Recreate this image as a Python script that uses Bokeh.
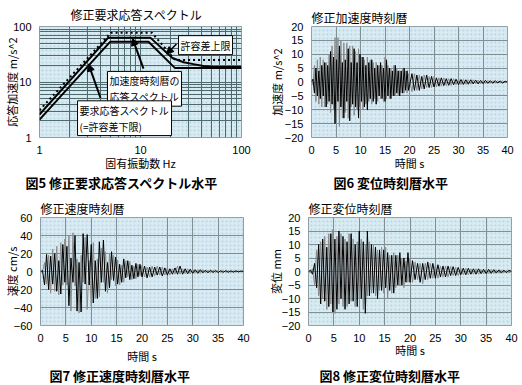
from bokeh.plotting import figure
from bokeh.layouts import column, row
from bokeh.models import (FixedTicker, SingleIntervalTicker, Label, Arrow,
                          NormalHead, BoxAnnotation, PrintfTickFormatter)
from bokeh.embed import file_html
from bokeh.resources import INLINE

JP = "Noto Sans CJK JP"
NUM = "Liberation Sans"
BG = "#d8ebf3"
DOTS = "#b9d3df"
GRID1 = "#4e6a6c"
GRID2 = "#7f8f94"
GREY = "#8a8a8a"

# ---------------- Fig.5 : response spectra (log-log) ----------------
freq_req = [1, 5, 12, 22, 100]
acc_req = [2.1, 53, 53, 17.8, 17.8]
freq_resp = [1, 4.8, 12.5, 20.7, 26.7, 33.5, 42, 53, 100]
acc_resp = [2.6, 63, 63, 27, 22.7, 21, 19.5, 18.6, 18.6]
freq_upper = [1, 5.1, 13, 22, 100]
acc_upper = [3.1, 77, 77, 25, 25]

# ---------------- Fig.6 : acceleration time history ----------------
t_acc = [0.0, 0.3, 0.6, 0.9, 1.2, 1.5, 1.8, 2.1, 2.4, 2.7, 3.0, 3.3, 3.6, 3.9, 4.2, 4.5,
         4.8, 5.1, 5.4, 5.7, 6.0, 6.3, 6.6, 6.9, 7.2, 7.5, 7.8, 8.1, 8.4, 8.7, 9.0, 9.3,
         9.6, 9.9, 10.2, 10.5, 10.8, 11.1, 11.4, 11.7, 12.0, 12.3, 12.6, 12.9, 13.2, 13.5,
         13.8, 14.1, 14.4, 14.7, 15.0, 15.3, 15.6, 15.9, 16.2, 16.5, 16.8, 17.1, 17.4,
         17.7, 18.0, 18.3, 18.6, 18.9, 19.2, 19.5, 19.8,
         20.5, 21.0, 21.5, 22.0, 22.5, 23.0, 23.5, 24.0, 24.5, 25.0, 25.5, 26.0, 26.5,
         27.0, 27.5, 28.0, 28.5, 29.0, 29.5, 30.0, 30.5, 31.0, 31.5, 32.0, 32.5, 33.0,
         33.5, 34.0, 34.5, 35.0, 35.5, 36.0, 36.5, 37.0, 37.5, 38.0, 38.5, 39.0, 39.5, 40.0]
acc_black = [0, 1, -4, 5, -5, 4, -6, 6, -5, 7, -9, 6, -7, 11, -8, 9, -15, 8, -7, 13,
             -9, 7, -13, 8, -7, 12, -14, 7, -8, 12, -9, 7, -13, 10, -7, 9, -9, 6, -10, 7,
             -6, 8, -7, 5, -8, 6, -5, 7, -6, 5, -7, 8, -5, 5, -6, 4, -5, 6, -4, 4,
             -5, 4, -4, 5, -3, 4, -3,
             3, -3, 2.5, -3, 2, -2.5, 2.5, -2, 2, -1.8, 1.5, -1.5, 1.5, -1.3, 1.2, -1.2,
             1.2, -1, 1, -1, 0.9, -0.9, 0.8, -0.8, 0.8, -0.7, 0.7, -0.7, 0.6, -0.6, 0.6,
             -0.5, 0.5, -0.5, 0.5, -0.4, 0.4, -0.4, 0.3, 0]
acc_grey = [0, -1, 6, -7, 8, -8, 9, -9, 8, -9, 7, -8, 10, -11, 13, -10, 16, -12, 16, -16,
            15, -13, 14, -11, 14, -13, 13, -9, 13, -12, 11, -10, 12, -9, 9, -10, 8, -8, 9, -7,
            8, -8, 7, -6, 7, -7, 6, -6, 6, -7, 9, -6, 6, -6, 5, -5, 6, -5, 5, -5,
            4, -4, 5, -4, 4, -4, 3,
            -3.5, 3, -3, 2.5, -2.5, 2.5, -2, 2, -2, 2, -1.8, 1.5, -1.5, 1.5, -1.3, 1.2,
            -1.2, 1.2, -1, 1, -1, 0.9, -0.9, 0.8, -0.8, 0.8, -0.7, 0.7, -0.7, 0.6, -0.6,
            0.6, -0.5, 0.5, -0.5, 0.5, -0.4, 0.4, -0.3, 0]

# ---------------- Fig.7 : velocity time history ----------------
t_vel = [0.0, 0.4, 0.8, 1.2, 1.6, 2.0, 2.4, 2.8, 3.2, 3.6, 4.0, 4.4, 4.8, 5.2, 5.6, 6.0,
         6.4, 6.8, 7.2, 7.6, 8.0, 8.4, 8.8, 9.2, 9.6, 10.0, 10.4, 10.8, 11.2, 11.6, 12.0,
         12.4, 12.8, 13.2, 13.6, 14.0, 14.4, 14.8, 15.2, 15.6, 16.0, 16.4, 16.8, 17.2,
         17.6, 18.0, 18.4, 18.8, 19.2, 19.6, 20.0,
         20.5, 21.0, 21.5, 22.0, 22.5, 23.0, 23.5, 24.0, 24.5, 25.0, 25.5, 26.0, 26.5,
         27.0, 27.5, 28.0, 28.5, 29.0, 29.5, 30.0, 30.5, 31.0, 31.5, 32.0, 32.5, 33.0,
         33.5, 34.0, 34.5, 35.0, 35.5, 36.0, 36.5, 37.0, 37.5, 38.0, 38.5, 39.0, 39.5, 40.0]
vel_black = [0, 1, -15, 19, -20, 17, -14, 20, -22, 12, -25, 30, -12, 28, -38, 15, -12, 40,
             -44, 10, -45, 42, -14, 41, -15, 30, -35, 12, -30, 33, -12, 35, -22, 10, -18,
             22, -10, 16, -14, 8, -12, 14, -7, 12, -9, 7, -8, 9, -6, 8, -6,
             6, -7, 5, -6, 5, -4, 5, -5, 4, -4, 3, -3, 4, -3, 6, -3, 3, -2.5, 2.5, -2,
             2, -2, 2, -1.5, 1.5, -1.5, 1.5, -1.2, 1.2, -1.2, 1, -1, 1, -1, 0.8, -0.8,
             0.8, -0.6, 0.6, 0]
vel_grey = [0, -1, 10, -14, 18, -24, 25, -22, 28, -26, 32, -15, 36, -15, 40, -44, 43, -16,
            14, -46, 18, -12, 38, -42, 12, -38, 32, -30, 14, -28, 26, -12, 22, -24, 20,
            -9, 18, -16, 13, -15, 7, -12, 12, -6, 11, -9, 6, -8, 8, -5, 7,
            -6, 5, -6, 6, -5, 6, -4, 5, -4, 4, -4, 3, -3, 6, -3, 3, -2.5, 3, -2.5, 2.5,
            -2, 2, -2, 2, -1.5, 1.5, -1.5, 1.5, -1.2, 1.2, -1.2, 1, -1, 1, -1, 0.8, -0.8,
            0.8, -0.6, 0]

# ---------------- Fig.8 : displacement time history ----------------
t_dis = list(t_vel)
dis_black = [0, 0.5, -1, 3, -6, 10, -12, 12, -11, 9, -13, 14, -15, 12, -14, 15, -10, 13,
             -14, 11, -12, 14, -11, 10, -13, 15, -10, 11, -15.5, 15, -9, 10, -8, 9, -10,
             8, -7, 8, -6, 7, -7, 6, -8, 6, -5, 7, -5, 5, -4, 7, -4,
             4, -3, 3, -4, 3, -3, 3.5, -2.5, 3, -2.5, 2.5, -2, 2, -2, 2, -1.5, 1.8, -1.5,
             1.5, -1.2, 1.2, -1.2, 1.2, -1, 1, -1, 1, -0.8, 0.8, -0.8, 0.8, -0.7, 0.7,
             -0.6, 0.6, -0.6, 0.5, -0.5, 0.5, 0]
dis_grey = [0, -0.5, 1, -5, 8, -9, 11, -10, 13, -14, 14, -12, 15.5, -15.5, 13, -12, 14, -13,
            12, -13, 14, -11, 12, -13, 11, -10, 12, -14, 10, -9, 11, -8, 10, -9, 8, -7, 9,
            -8, 9, -10, 6, -8, 7, -6, 6, -5, 5, -6, 4, -4, 5,
            -4, 3.5, -3, 3, -4.5, 3, -3, 3, -2.5, 2.5, -2.5, 2, -2, 2, -2, 1.8, -1.5, 1.5,
            -1.5, 1.2, -1.2, 1.2, -1.2, 1, -1, 1, -1, 0.8, -0.8, 0.8, -0.8, 0.7, -0.7,
            0.6, -0.6, 0.6, -0.5, 0.5, -0.5, 0]

captions = ["図5 修正要求応答スペクトル水平", "図6 変位時刻暦水平",
            "図7 修正速度時刻暦水平", "図8 修正変位時刻暦水平"]


def make_fig(w, h, ml, mr, mt, mb, title, title_offset, title_standoff, **kw):
    p = figure(width=w, height=h, min_border_left=ml, min_border_right=mr,
               min_border_top=mt, min_border_bottom=mb, output_backend="svg",
               toolbar_location=None, title=title, **kw)
    p.background_fill_color = BG
    p.border_fill_color = "white"
    p.outline_line_color = "#8c9ca4"
    p.outline_line_width = 1
    p.add_layout(BoxAnnotation(fill_color=None, line_color=None, hatch_pattern=".",
                               hatch_color=DOTS, hatch_scale=4, hatch_weight=1,
                               level="image"))
    for ax in (p.xaxis[0], p.yaxis[0]):
        ax.axis_line_color = None
        ax.major_tick_line_color = None
        ax.minor_tick_line_color = None
        ax.major_label_text_font = NUM
        ax.major_label_text_font_size = "11px"
        ax.major_label_text_color = "black"
        ax.major_label_standoff = 2
        ax.axis_label_text_font = JP
        ax.axis_label_text_font_size = "11px"
        ax.axis_label_text_font_style = "normal"
        ax.axis_label_text_color = "black"
    p.title.text_font = JP
    p.title.text_font_size = "12px"
    p.title.text_font_style = "normal"
    p.title.text_color = "black"
    p.title.align = "left"
    p.title.offset = title_offset
    p.title.standoff = title_standoff
    return p


def caption_fig(w, h, text, x):
    c = figure(width=w, height=h, x_range=(0, w), y_range=(0, h), min_border=0,
               output_backend="svg", toolbar_location=None,
               x_axis_location=None, y_axis_location=None)
    c.grid.visible = False
    c.outline_line_color = None
    c.background_fill_color = "white"
    c.add_layout(Label(x=x, y=h / 2, text=text, text_font=JP, text_font_size="13px",
                       text_font_style="bold", text_color="black",
                       text_align="left", text_baseline="middle"))
    return c


# ---- Fig 5 ----
p1 = make_fig(261, 173, 39, 20, 24, 28, "修正要求応答スペクトル", 31, 7,
              x_axis_type="log", y_axis_type="log", x_range=(1, 100), y_range=(1, 100))
tk = FixedTicker(ticks=[1, 10, 100], minor_ticks=[2, 3, 4, 5, 6, 7, 8, 9, 20, 30, 40, 50, 60, 70, 80, 90])
for ax, g in ((p1.xaxis[0], p1.xgrid[0]), (p1.yaxis[0], p1.ygrid[0])):
    ax.ticker = tk
    ax.formatter = PrintfTickFormatter(format="%d")
    g.ticker = tk
    g.grid_line_color = GRID1
    g.minor_grid_line_color = GRID1
p1.xaxis.axis_label = "固有振動数 Hz"
p1.yaxis.axis_label = "応答加速度 m/s^2"
p1.xaxis.axis_label_standoff = -2
p1.yaxis.axis_label_standoff = -10
p1.line(freq_upper, acc_upper, color="black", line_width=2, line_dash="2 3")
p1.line(freq_req, acc_req, color="black", line_width=2)
p1.line(freq_resp, acc_resp, color="black", line_width=2)

box_kw = dict(text_font=JP, text_font_size="10px", text_color="black",
              background_fill_color="white", border_line_color="black",
              border_line_width=1, padding=2, text_align="left", text_baseline="top",
              text_line_height=1.05)
p1.add_layout(Label(x=23.8, y=68.4, text="許容差上限", **box_kw))
p1.add_layout(Label(x=4.71, y=15.5, text="加速度時刻暦の\n応答スペクトル", **box_kw))
p1.add_layout(Label(x=2.38, y=4.58, text="要求応答スペクトル\n(=許容差下限)", **box_kw))
head = dict(size=7, fill_color="black", line_color="black")
p1.add_layout(Arrow(end=NormalHead(**head), x_start=22.7, y_start=48.5, x_end=18.1, y_end=31.9, line_width=1.5))
p1.add_layout(Arrow(end=NormalHead(**head), x_start=10.7, y_start=17.4, x_end=8.33, y_end=61, line_width=2))
p1.add_layout(Arrow(end=NormalHead(**head), x_start=4.02, y_start=5.14, x_end=3.06, y_end=21, line_width=2))


def ts_fig(w, h, ml, mr, mt, mb, title, tstand, ylim, ystep, ylabel, t, grey, black,
           xlab_standoff, ylab_standoff):
    p = make_fig(w, h, ml, mr, mt, mb, title, 0, tstand, x_range=(0, 40), y_range=ylim)
    xt = SingleIntervalTicker(interval=5, num_minor_ticks=0)
    yt = SingleIntervalTicker(interval=ystep, num_minor_ticks=0)
    p.xaxis.ticker = xt
    p.xgrid.ticker = xt
    p.yaxis.ticker = yt
    p.ygrid.ticker = yt
    for g in (p.xgrid[0], p.ygrid[0]):
        g.grid_line_color = GRID2
        g.grid_line_width = 1
    p.xaxis.axis_label = "時間 s"
    p.yaxis.axis_label = ylabel
    p.xaxis.axis_label_standoff = xlab_standoff
    p.yaxis.axis_label_standoff = ylab_standoff
    p.line(t, grey, color=GREY, line_width=1)
    p.line(t, black, color="black", line_width=1)
    return p


p2 = ts_fig(260, 173, 50, 14, 19, 30, "修正加速度時刻暦", 1, (-20, 20), 5, "加速度 m/s^2",
            t_acc, acc_grey, acc_black, -2, -3)
p3 = ts_fig(261, 175, 39, 18, 23, 40, "修正速度時刻暦", 2, (-60, 60), 20, "速度 cm/s",
            t_vel, vel_grey, vel_black, 3, -9)
p4 = ts_fig(260, 175, 47, 10, 26, 34, "修正変位時刻暦", 2, (-20, 20), 5, "変位 mm",
            t_dis, dis_grey, dis_black, -3, -5)

c5 = caption_fig(261, 18, captions[0], 25)
c6 = caption_fig(260, 18, captions[1], 72)
c7 = caption_fig(261, 18, captions[2], 49)
c8 = caption_fig(260, 18, captions[3], 58)

layout = column(row(p1, p2), row(c5, c6), row(p3, p4), row(c7, c8))
open("out.html", "w").write(file_html(layout, INLINE))
